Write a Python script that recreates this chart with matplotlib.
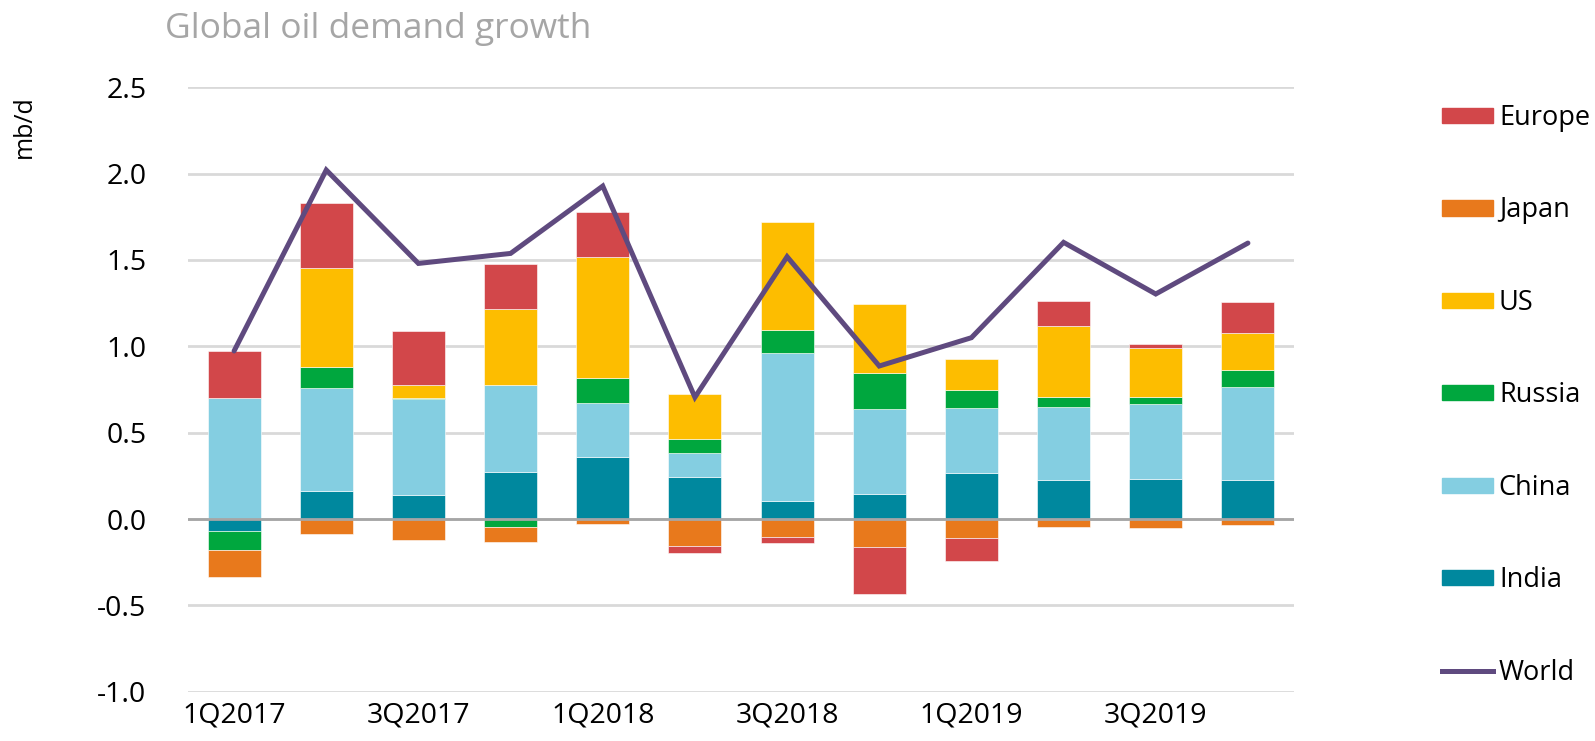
import numpy as np
import matplotlib
matplotlib.use("Agg")
import matplotlib.pyplot as plt
from matplotlib.patches import Patch
from matplotlib.lines import Line2D

#%% data (mb/d)
quarters = ["1Q2017", "2Q2017", "3Q2017", "4Q2017",
            "1Q2018", "2Q2018", "3Q2018", "4Q2018",
            "1Q2019", "2Q2019", "3Q2019", "4Q2019"]
india  = [-0.07, 0.164, 0.139, 0.274, 0.361, 0.245, 0.106, 0.147, 0.268, 0.228, 0.234, 0.228]
china  = [0.70, 0.596, 0.556, 0.502, 0.313, 0.137, 0.857, 0.492, 0.373, 0.422, 0.432, 0.538]
russia = [-0.11, 0.122, 0.006, -0.046, 0.142, 0.081, 0.131, 0.208, 0.108, 0.056, 0.04, 0.095]
us     = [0.0, 0.573, 0.074, 0.44, 0.703, 0.261, 0.628, 0.396, 0.179, 0.412, 0.284, 0.216]
japan  = [-0.155, -0.087, -0.124, -0.089, -0.029, -0.156, -0.102, -0.164, -0.112, -0.044, -0.05, -0.033]
europe = [0.275, 0.373, 0.311, 0.262, 0.259, -0.043, -0.035, -0.27, -0.133, 0.146, 0.023, 0.181]
world  = [0.973, 2.021, 1.48, 1.538, 1.928, 0.705, 1.519, 0.886, 1.05, 1.602, 1.303, 1.598]

series = [("India", india, "#00889E"),
          ("China", china, "#84CEE1"),
          ("Russia", russia, "#00A73E"),
          ("US", us, "#FDBD00"),
          ("Japan", japan, "#E8791C"),
          ("Europe", europe, "#D2474A")]

plt.rcParams['font.family'] = ['Open Sans', 'DejaVu Sans']

fig = plt.figure(figsize=(15.95, 7.41), dpi=100)
ax = fig.add_axes([188/1595, 49.3/741, 1106/1595, 604.4/741])

x = np.arange(len(quarters))
pos_base = np.zeros(len(quarters))
neg_base = np.zeros(len(quarters))
for name, vals, col in series:
    v = np.array(vals)
    base = np.where(v >= 0, pos_base, neg_base)
    ax.bar(x, v, width=0.575, bottom=base, color=col, edgecolor='white',
           linewidth=0.4, zorder=3)
    pos_base += np.where(v >= 0, v, 0)
    neg_base += np.where(v < 0, v, 0)

ax.plot(x, world, color="#5F4A7F", linewidth=3.6, zorder=4,
        solid_capstyle='round', solid_joinstyle='miter')

ax.axhline(0, color="#A6A6A6", linewidth=2, zorder=3.5)
ax.set_xlim(-0.5, len(quarters) - 0.5)
ax.set_ylim(-1.0, 2.5)
ax.set_yticks(np.arange(-1.0, 2.51, 0.5))
ax.set_yticklabels([f"{t:.1f}" for t in np.arange(-1.0, 2.51, 0.5)])
ax.set_xticks(x[::2])
ax.set_xticklabels(quarters[::2])
ax.yaxis.grid(True, color="#D9D9D9", linewidth=2)
ax.set_axisbelow(True)
for s in ax.spines.values():
    s.set_visible(False)
ax.tick_params(axis='both', length=0, labelsize=20.5, colors='black')
ax.tick_params(axis='y', pad=30)
ax.tick_params(axis='x', pad=7)

fig.text(165/1595, 1 - 29/741, "Global oil demand growth", fontsize=25.5,
         color="#A6A6A6", va='center', ha='left')
fig.text(24/1595, 1 - 127/741, "mb/d", fontsize=18, rotation=90,
         va='center', ha='center')

handles = [Patch(color=col, label=name) for name, _, col in reversed(series)]
handles.append(Line2D([], [], color="#5F4A7F", linewidth=3.6, label="World"))
fig.legend(handles=handles, loc='upper left', bbox_to_anchor=(1442/1595, 1 - 104/741),
           frameon=False, fontsize=19.5, handlelength=1.9, handleheight=0.5,
           handletextpad=0.2, labelspacing=2.38, borderpad=0, borderaxespad=0)

fig.savefig("out.png", dpi=100)
